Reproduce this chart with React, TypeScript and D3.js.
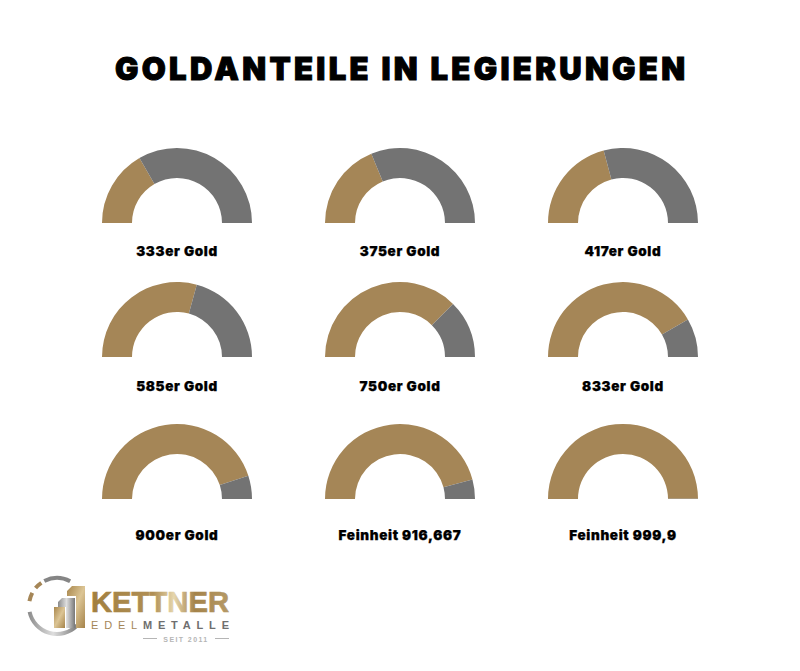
import * as d3 from "d3";

// share of gold per alloy, the rest is the other metals
const labels = [
	"333er Gold",
	"375er Gold",
	"417er Gold",
	"585er Gold",
	"750er Gold",
	"833er Gold",
	"900er Gold",
	"Feinheit 916,667",
	"Feinheit 999,9",
];
const goldShares = [0.333, 0.375, 0.417, 0.585, 0.75, 0.833, 0.9, 0.91667, 0.999];
const columns = [0, 1, 2];
const rows = [0, 1, 2];

const GOLD = "#a58657";
const GREY = "#737373";
const FONT = "Inter, 'Liberation Sans', sans-serif";

const x = d3.scalePoint<number>().domain(columns).range([177, 623]);
const rowBase = d3.scaleOrdinal<number, number>().domain(rows).range([223, 357, 499]);
const rowLabel = d3.scaleOrdinal<number, number>().domain(rows).range([256, 391, 540]);

const pie = d3
	.pie<number>()
	.sort(null)
	.startAngle(-Math.PI / 2)
	.endAngle(Math.PI / 2);
const arc = d3.arc<d3.PieArcDatum<number>>().innerRadius(45).outerRadius(75);

const ring = d3.arc();

function Gauge(props: { share: number; label: string; index: number }) {
	const col = props.index % 3;
	const row = Math.floor(props.index / 3);
	const slices = pie([props.share, 1 - props.share]);
	return (
		<g>
			<g transform={`translate(${x(col)},${rowBase(row)})`}>
				{slices.map((s, i) => (
					<path key={i} d={arc(s) ?? ""} fill={i === 0 ? GOLD : GREY} />
				))}
			</g>
			<text
				x={x(col)}
				y={rowLabel(row)}
				textAnchor="middle"
				fontFamily={FONT}
				fontWeight={900}
				fontSize={13.5}
				letterSpacing={0.65}
				stroke="#000"
				strokeWidth={0.25}
				fill="#000"
			>
				{props.label}
			</text>
		</g>
	);
}

function Logo() {
	const seg = (a0: number, a1: number) =>
		ring({ innerRadius: 26, outerRadius: 30, startAngle: a0, endAngle: a1 }) ?? "";
	const deg = (d: number) => (d * Math.PI) / 180;
	return (
		<g>
			<defs>
				<linearGradient id="goldGrad" x1="0" x2="1" y1="0" y2="0">
					<stop offset="0" stopColor="#a17f3f" />
					<stop offset="0.45" stopColor="#b08f55" />
					<stop offset="0.6" stopColor="#e6d6ad" />
					<stop offset="0.75" stopColor="#a5834a" />
					<stop offset="1" stopColor="#b59a68" />
				</linearGradient>
				<linearGradient id="barGrad" x1="0" x2="1" y1="0" y2="1">
					<stop offset="0" stopColor="#a8864c" />
					<stop offset="0.5" stopColor="#dcc595" />
					<stop offset="1" stopColor="#a5834a" />
				</linearGradient>
				<linearGradient id="greyGrad" x1="0" x2="1" y1="0" y2="0">
					<stop offset="0" stopColor="#8a8a8a" />
					<stop offset="0.5" stopColor="#dedede" />
					<stop offset="1" stopColor="#777" />
				</linearGradient>
			</defs>
			<g transform="translate(57,606)">
				<path d={seg(deg(-27), deg(28))} fill="#858585" />
				<path d={seg(deg(134), deg(258))} fill="url(#greyGrad)" />
				<path d={seg(deg(-50), deg(-34))} fill={GOLD} />
				<path d={seg(deg(-80), deg(-62))} fill={GOLD} />
			</g>
			<path d="M58 602 L62 598 L75 598 L75 628 L66 628 L66 607 L58 607 Z" fill="url(#greyGrad)" />
			<rect x={54} y={607} width={11} height={21} fill="url(#barGrad)" />
			<path d="M67 591 L72 586 L85 586 L85 628 L76 628 L76 596 L67 596 Z" fill="url(#barGrad)" />
			<text
				x={91}
				y={612}
				fontFamily="'Liberation Sans', sans-serif"
				fontWeight={700}
				fontSize={30}
				textLength={138}
				lengthAdjust="spacingAndGlyphs"
				stroke="url(#goldGrad)"
				strokeWidth={0.7}
				fill="url(#goldGrad)"
			>
				KETTNER
			</text>
			<text
				x={91}
				y={629}
				fontFamily="'Liberation Sans', sans-serif"
				fontSize={11}
				textLength={138}
				lengthAdjust="spacing"
				fill="#6f6f6f"
			>
				<tspan fill={GOLD}>EDEL</tspan>
				<tspan fontWeight={700}>METALLE</tspan>
			</text>
			<text
				x={186}
				y={641.5}
				textAnchor="middle"
				fontFamily="'Liberation Sans', sans-serif"
				fontWeight={700}
				fontSize={7}
				letterSpacing={1.4}
				fill="#b5b5b5"
			>
				SEIT 2011
			</text>
			<line x1={143} x2={157} y1={638.5} y2={638.5} stroke="#b5b5b5" />
			<line x1={215} x2={229} y1={638.5} y2={638.5} stroke="#b5b5b5" />
		</g>
	);
}

export default function App() {
	return (
		<svg
			width={800}
			height={671}
			viewBox="0 0 800 671"
			style={{ position: "absolute", left: 0, top: 0, background: "#fff" }}
		>
			<text
				x={400}
				y={80}
				textAnchor="middle"
				fontFamily={FONT}
				fontWeight={900}
				fontSize={31}
				textLength={570}
				lengthAdjust="spacing"
				stroke="#000"
				strokeWidth={1}
				fill="#000"
			>
				GOLDANTEILE IN LEGIERUNGEN
			</text>
			{goldShares.map((share, i) => (
				<Gauge key={labels[i]} share={share} label={labels[i]} index={i} />
			))}
			<Logo />
		</svg>
	);
}
